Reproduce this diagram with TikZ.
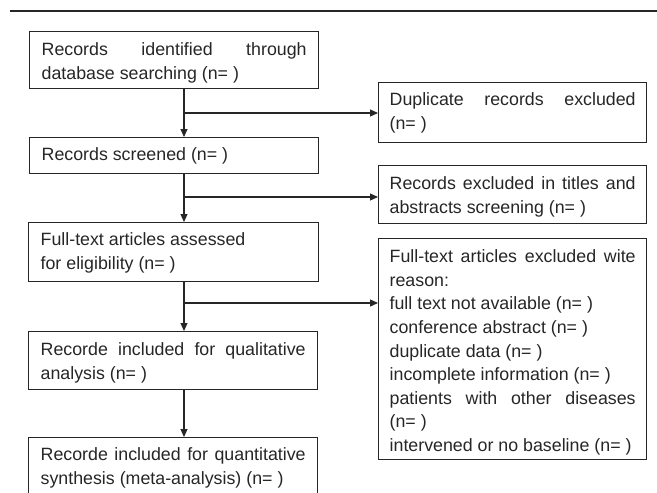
\documentclass[tikz,border=0pt]{standalone}
\usepackage{fontspec}
\setmainfont{Liberation Sans}
\usetikzlibrary{arrows.meta}
\definecolor{ink}{HTML}{262626}
\newcommand\fsA{\fontsize{17.8pt}{23.6pt}\selectfont}
\newcommand\jline[1]{{\spaceskip=0pt\xspaceskip=0pt\makebox[\hsize][s]{#1}}}
\newcommand\tstrut[1]{\rule{0pt}{#1pt}}
\newcommand\bstrut[1]{\rule[-#1pt]{0pt}{#1pt}}
\begin{document}
\begin{tikzpicture}[x=1pt,y=-1pt,
  box/.style={draw=ink, line width=1.3pt, anchor=north west, inner xsep=12pt,
    inner ysep=0pt, text width=#1, align=left, font=\fsA, text=ink,
    execute at begin node={\spaceskip=0pt\xspaceskip=0pt}},
  rbox/.style={box=246pt, inner xsep=11pt},
  arr/.style={draw=ink, line width=1.2pt, -{Triangle[length=8pt,width=7pt]}},
  conn/.style={draw=ink, line width=1.2pt}]
\useasboundingbox (0,0) rectangle (657,493);
\clip (0,0) rectangle (657,493);
% top rule
\coordinate (rl) at (10,11);
\coordinate (rr) at (657,11);
\draw[ink, line width=2.2pt] (rl) -- (rr);
% left column
\node[box=265pt] (b1) at (29,31) {\tstrut{24}\jline{Records identified through}\\database searching (n= )\bstrut{9}};
\node[box=265pt] (b2) at (29,137) {\tstrut{23}Records screened (n= )\bstrut{13}};
\node[box=266pt] (b3) at (28,222) {\tstrut{23}Full-text articles assessed\\for eligibility (n= )\bstrut{12}};
\node[box=265pt] (b4) at (28,331) {\tstrut{24}\jline{Recorde included for qualitative}\\analysis (n= )\bstrut{10}};
\node[box=265pt] (b5) at (28,437) {\tstrut{23}\jline{Recorde included for quantitative}\\synthesis (meta-analysis) (n= )\bstrut{30}};
% right column
\node[rbox] (r1) at (378,82) {\tstrut{23}\jline{Duplicate records excluded}\\(n= )\bstrut{13}};
\node[rbox] (r2) at (378,165) {\tstrut{24}\jline{Records excluded in titles and}\\abstracts screening (n= )\bstrut{10}};
\node[rbox] (r3) at (378,238) {\tstrut{24}\jline{Full-text articles excluded wite}\\reason:\\full text not available (n= )\\conference abstract (n= )\\duplicate data (n= )\\incomplete information (n= )\\\jline{patients with other diseases}\\(n= )\\intervened or no baseline (n= )\bstrut{8}};
% connectors
\coordinate (vx) at (184,0);
\coordinate (j1) at (184,113);
\coordinate (j2) at (184,197);
\coordinate (j3) at (184,303);
\draw[arr] (b1.south -| vx) -- (b2.north -| vx);
\draw[arr] (j1) -- (j1 -| r1.west);
\draw[arr] (b2.south -| vx) -- (b3.north -| vx);
\draw[arr] (j2) -- (j2 -| r2.west);
\draw[arr] (b3.south -| vx) -- (b4.north -| vx);
\draw[arr] (j3) -- (j3 -| r3.west);
\draw[arr] (b4.south -| vx) -- (b5.north -| vx);
\end{tikzpicture}
\end{document}
